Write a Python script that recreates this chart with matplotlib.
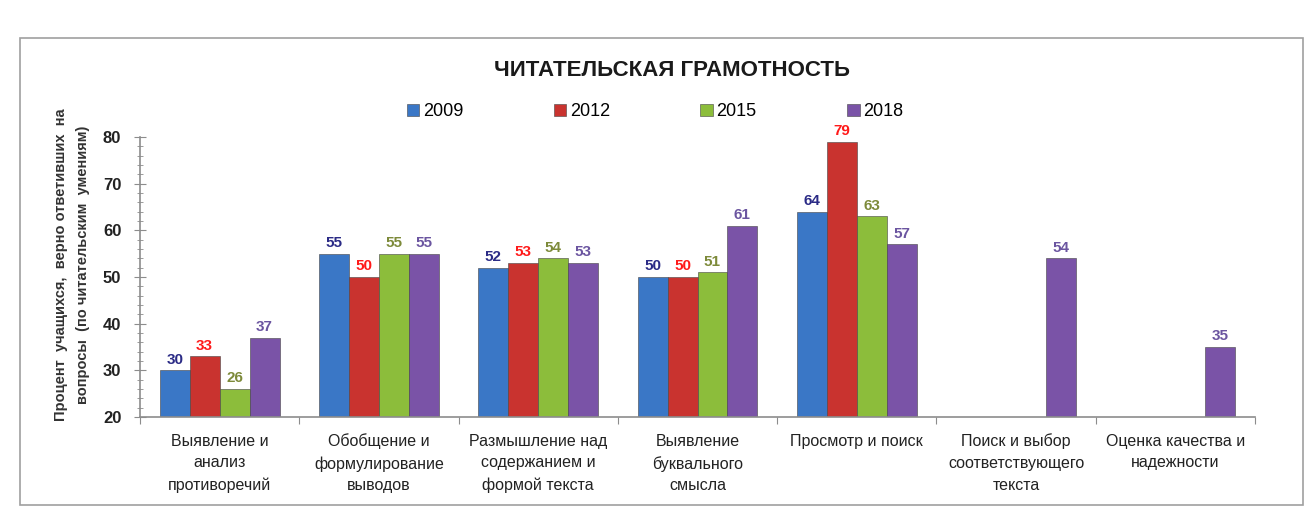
import numpy as np
import matplotlib
matplotlib.use("Agg")
import matplotlib.pyplot as plt
from matplotlib.patches import Rectangle
from matplotlib.ticker import MultipleLocator, FixedLocator

plt.rcParams['font.family'] = ['Liberation Sans', 'DejaVu Sans']

# данные
categories = [
    "Выявление и\nанализ\nпротиворечий",
    "Обобщение и\nформулирование\nвыводов",
    "Размышление над\nсодержанием и\nформой текста",
    "Выявление\nбуквального\nсмысла",
    "Просмотр и поиск",
    "Поиск и выбор\nсоответствующего\nтекста",
    "Оценка качества и\nнадежности",
]
years = ["2009", "2012", "2015", "2018"]
v2009 = [30, 55, 52, 50, 64, np.nan, np.nan]
v2012 = [33, 50, 53, 50, 79, np.nan, np.nan]
v2015 = [26, 55, 54, 51, 63, np.nan, np.nan]
v2018 = [37, 55, 53, 61, 57, 54, 35]

bar_colors = ['#3a77c6', '#c9332f', '#8cbd3b', '#7a53a7']
label_colors = ['#2b2b86', '#ff1a1a', '#7d8a3a', '#6b55a0']

fig = plt.figure(figsize=(13.09, 5.11), dpi=100)
ax = fig.add_axes([140 / 1309, 1 - 417 / 511, 1115 / 1309, 280 / 511])

x = np.arange(len(categories))
w = 0.188
series = [v2009, v2012, v2015, v2018]
handles = []
for i, vals in enumerate(series):
    vals = np.array(vals, dtype=float)
    pos = x + (i - 1.5) * w
    b = ax.bar(pos, vals - 20, bottom=20, width=w, color=bar_colors[i],
               edgecolor='#444444', linewidth=0.4, label=years[i])
    handles.append(b)
    for p, v in zip(pos, vals):
        if np.isnan(v):
            continue
        ax.text(p, v + 0.8, f"{int(v)}", ha='center', va='bottom',
                fontsize=11, fontweight='bold', color=label_colors[i])

ax.set_xlim(-0.5, len(categories) - 0.5)
ax.set_ylim(20, 80)

for s in ['top', 'right']:
    ax.spines[s].set_visible(False)
for s in ['left', 'bottom']:
    ax.spines[s].set_color('#8c8c8c')
    ax.spines[s].set_linewidth(1.2)

ax.yaxis.set_major_locator(MultipleLocator(10))
ax.yaxis.set_minor_locator(MultipleLocator(2))
ax.tick_params(axis='y', which='major', direction='inout', length=9,
               color='#8c8c8c', labelsize=12, pad=9)
ax.tick_params(axis='y', which='minor', direction='inout', length=5,
               color='#8c8c8c')
for t in ax.get_yticklabels():
    t.set_fontweight('bold')
    t.set_color('#222222')

ax.xaxis.set_major_locator(FixedLocator(np.arange(-0.5, len(categories), 1.0)))
ax.xaxis.set_minor_locator(FixedLocator(x))
ax.set_xticklabels([], minor=False)
ax.set_xticklabels(categories, minor=True, fontsize=11.5, color='#222222',
                   linespacing=1.55)
ax.tick_params(axis='x', which='major', direction='out', length=5,
               color='#8c8c8c')
ax.tick_params(axis='x', which='minor', length=0, pad=12)

fig.text(672 / 1309, 1 - 70 / 511, "ЧИТАТЕЛЬСКАЯ ГРАМОТНОСТЬ", ha='center',
         va='center', fontsize=16, fontweight='bold', color='#1a1a1a')

leg = fig.legend(handles=handles, labels=years, loc='center',
                 bbox_to_anchor=(655 / 1309, 1 - 112 / 511), ncol=4,
                 frameon=False, fontsize=13, handlelength=0.7,
                 handleheight=0.7, handletextpad=0.2, columnspacing=5.0)

fig.text(72 / 1309, 1 - 265 / 511,
         "Процент  учащихся,  верно ответивших  на\nвопросы  (по читательским  умениям)",
         rotation=90, ha='center', va='center', fontsize=10.5,
         fontweight='bold', color='#333333', linespacing=1.75)

# рамка диаграммы
fig.patches.append(Rectangle((20 / 1309, 1 - 505 / 511), 1283 / 1309, 467 / 511,
                             transform=fig.transFigure, fill=False,
                             edgecolor='#a0a0a0', linewidth=1.2))

fig.savefig("out.png", dpi=100)
